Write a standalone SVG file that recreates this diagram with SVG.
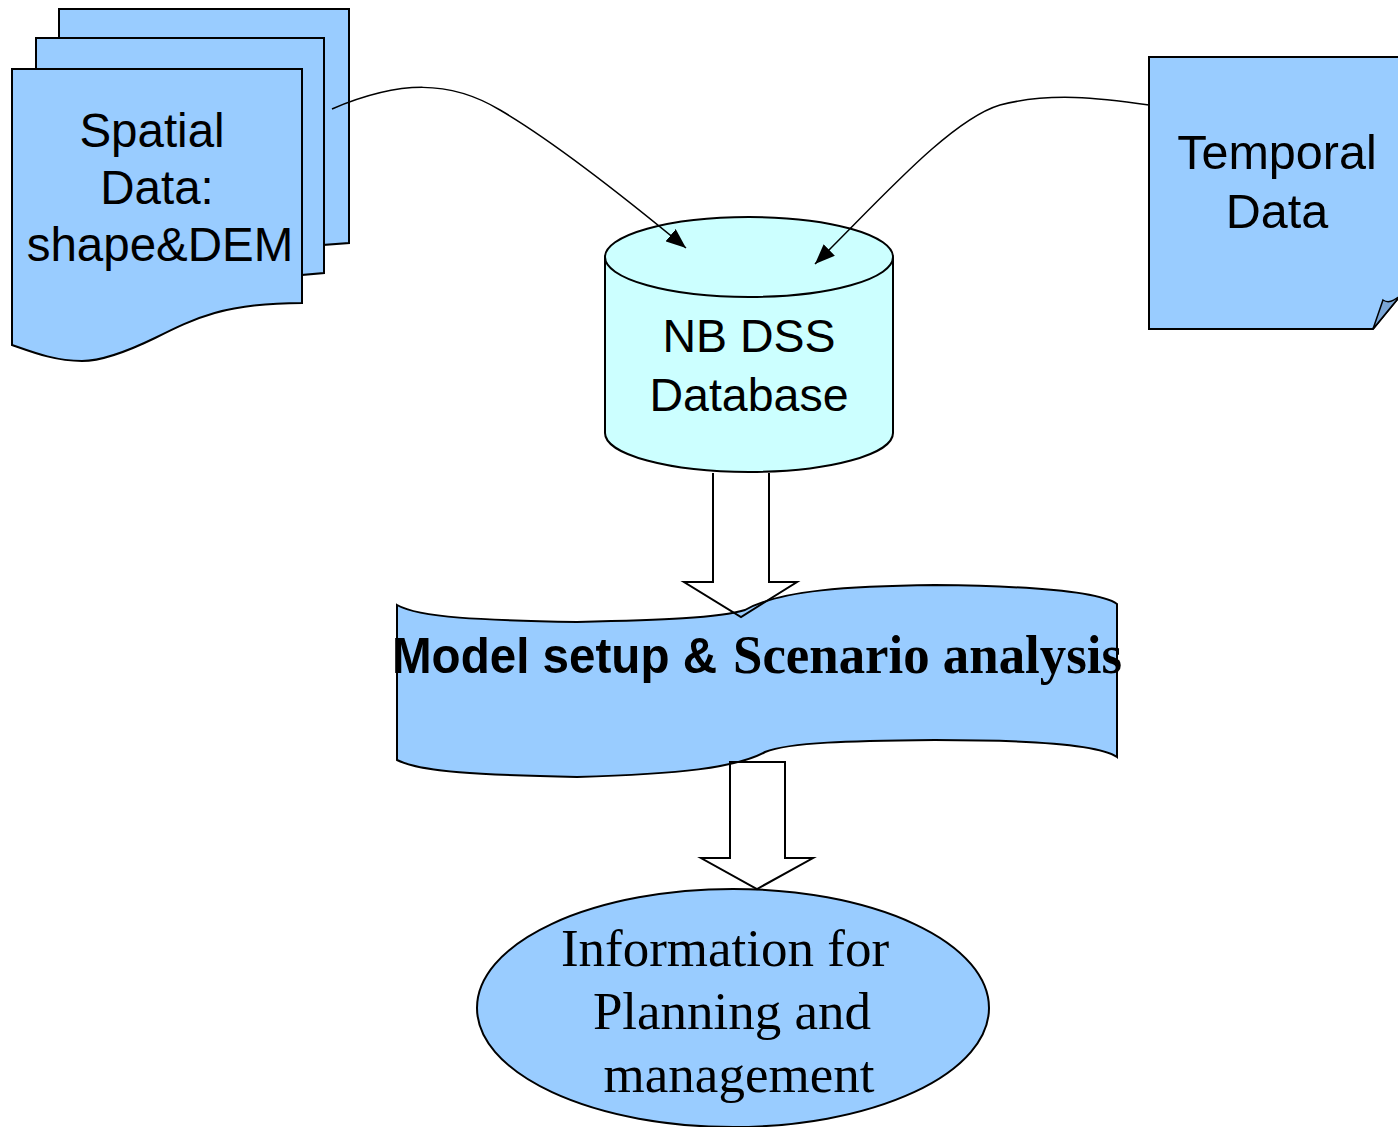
<svg xmlns="http://www.w3.org/2000/svg" width="1398" height="1127" viewBox="0 0 1398 1127">
<defs>
<style>
.shape{fill:#99ccff;stroke:#000;stroke-width:2}
.db{fill:#ccffff;stroke:#000;stroke-width:2}
.sans{font-family:"Liberation Sans",Arial,sans-serif;fill:#000}
.serif{font-family:"Liberation Serif","Times New Roman",serif;fill:#000}
.conn{fill:none;stroke:#000;stroke-width:1.5}
.block{fill:none;stroke:#000;stroke-width:2}
</style>
<marker id="ah2" viewBox="0 0 20 16" refX="20" refY="8" markerWidth="20" markerHeight="16" markerUnits="userSpaceOnUse" orient="auto">
<path d="M0,0 L20,8 L0,16 Z" fill="#000"/>
</marker>
</defs>
<rect width="1398" height="1127" fill="#fff"/>

<g id="spatial-data">
<path class="shape" d="M59,9 H349 V243 L323,245 V260 H59 Z"/>
<path class="shape" d="M36,38 H324 V273 L302,275 V290 H36 Z"/>
<path class="shape" d="M12,69 H302 V303 C 225,303 195,318 155,338 C 118,356 98,361 82,361 C 55,361 32,352 12,345 Z"/>
<text class="sans" font-size="47.5" text-anchor="middle"><tspan x="152" y="147">Spatial</tspan><tspan x="157" y="204">Data:</tspan><tspan x="160" y="261">shape&amp;DEM</tspan></text>
</g>

<g id="temporal-data">
<path class="shape" d="M1149,57 H1400 V296 L1373,329 H1149 Z"/>
<path d="M1373,329 L1383,300 C1389,304 1394,300 1400,296 Z" fill="#7aa6d6" stroke="#000" stroke-width="1.5"/>
<text class="sans" font-size="48.5" text-anchor="middle"><tspan x="1277" y="169">Temporal</tspan><tspan x="1277" y="228">Data</tspan></text>
</g>

<g id="nb-dss-database">
<path class="db" d="M605,257 V433 A144,39 0 0 0 893,433 V257"/>
<ellipse class="db" cx="749" cy="257" rx="144" ry="40"/>
<text class="sans" font-size="46.5" text-anchor="middle"><tspan x="749" y="352">NB DSS</tspan><tspan x="749" y="411">Database</tspan></text>
</g>

<g id="model-setup">
<path class="shape" d="M397,605 C 420,618 480,620 577,622 C 660,620 720,618 745,610 C 780,590 850,586 935,585 C 1030,586 1100,592 1117,604 V757 C 1100,745 1030,740 935,740 C 850,741 790,742 765,752 C 735,768 680,774 577,777 C 480,775 420,772 397,760 Z"/>
<text class="sans" font-size="50" font-weight="bold" x="392" y="673" textLength="325" lengthAdjust="spacingAndGlyphs">Model setup &amp;</text>
<text class="serif" font-size="54" font-weight="bold" x="733" y="673" textLength="389" lengthAdjust="spacingAndGlyphs">Scenario analysis</text>
</g>

<g id="information">
<ellipse class="shape" cx="733" cy="1008" rx="256" ry="119"/>
<text class="serif" font-size="53" text-anchor="middle"><tspan x="725" y="966">Information for</tspan><tspan x="732" y="1029">Planning and</tspan><tspan x="739" y="1092">management</tspan></text>
</g>

<g id="connectors">
<path class="conn" d="M332,109 C 400,80 450,80 500,110 C 560,145 640,210 686,248" marker-end="url(#ah2)"/>
<path class="conn" d="M1149,105 C 1100,98 1050,92 1000,105 C 950,120 880,200 815,264" marker-end="url(#ah2)"/>
<path class="block" d="M713,473 V582 H684 L741,617 L797,582 H769 V473"/>
<path class="block" d="M730,762 V858 H701 L757,889 L813,858 H785 V762 Z"/>
</g>
</svg>
